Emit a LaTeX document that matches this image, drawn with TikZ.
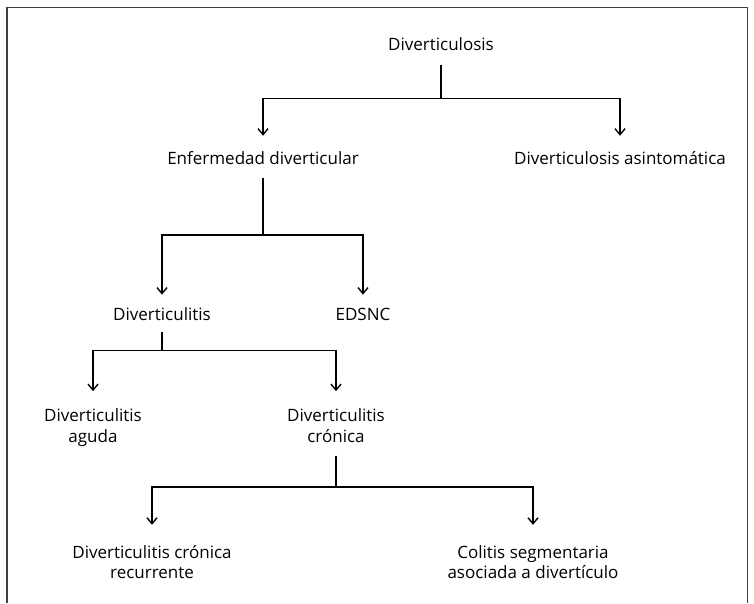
\documentclass[tikz,border=0pt]{standalone}
\usepackage{fontspec}
\setmainfont{Open Sans}
\usetikzlibrary{arrows.meta}
\newcommand\lbtab[1]{\begin{tabular}{@{}c@{}}#1\end{tabular}}
\begin{document}
\begin{tikzpicture}[x=1pt,y=-1pt,
  lbl/.style={inner sep=0pt,font=\fontsize{17}{20.5}\selectfont},
  conn/.style={line width=1.8pt,line join=miter},
  arr/.style={conn,-{Straight Barb[length=6pt,width=10pt,line width=1.4pt]}}]
\useasboundingbox (0,0) rectangle (754,603);
\fill[white] (0,0) rectangle (754,603);
\draw[line width=1.6pt,draw=black!75] (7,603) -- (7,7.5) -- (747.5,7.5) -- (747.5,603);
% nodes
\node[lbl] (root) at (441,46.6) {\lbtab{Diverticulosis}};
\node[lbl] (enf) at (263,160.2) {\lbtab{Enfermedad diverticular}};
\node[lbl] (asin) at (620,160.2) {\lbtab{Diverticulosis asintomática}};
\node[lbl] (ditis) at (162,316.6) {\lbtab{Diverticulitis}};
\node[lbl] (edsnc) at (363,316.6) {\lbtab{EDSNC}};
\node[lbl] (aguda) at (93,427.9) {\lbtab{Diverticulitis\\aguda}};
\node[lbl] (cron) at (336,427.9) {\lbtab{Diverticulitis\\crónica}};
\node[lbl] (recur) at (152,564.5) {\lbtab{Diverticulitis crónica\\recurrente}};
\node[lbl] (colit) at (533,564.5) {\lbtab{Colitis segmentaria\\asociada a divertículo}};
% junction coordinates
\coordinate (j1) at (441,98.5);
\coordinate (j2) at (263,235);
\coordinate (j3) at (162,350.5);
\coordinate (j4) at (336,487);
% connectors
\draw[conn,shorten <=8pt] (root.south) -- (j1);
\draw[arr,shorten >=14pt] (j1) -| (enf.north);
\draw[arr,shorten >=14pt] (j1) -| (asin.north);
\draw[conn,shorten <=7pt] (enf.south) -- (j2);
\draw[arr,shorten >=11.5pt] (j2) -| (ditis.north);
\draw[arr,shorten >=11.5pt] (j2) -| (edsnc.north);
\draw[conn,shorten <=5pt] (ditis.south) -- (j3);
\draw[arr,shorten >=16pt] (j3) -| (aguda.north);
\draw[arr,shorten >=16pt] (j3) -| (cron.north);
\draw[conn,shorten <=7pt] (cron.south) -- (j4);
\draw[arr,shorten >=19pt] (j4) -| (recur.north);
\draw[arr,shorten >=19pt] (j4) -| (colit.north);
\end{tikzpicture}
\end{document}
